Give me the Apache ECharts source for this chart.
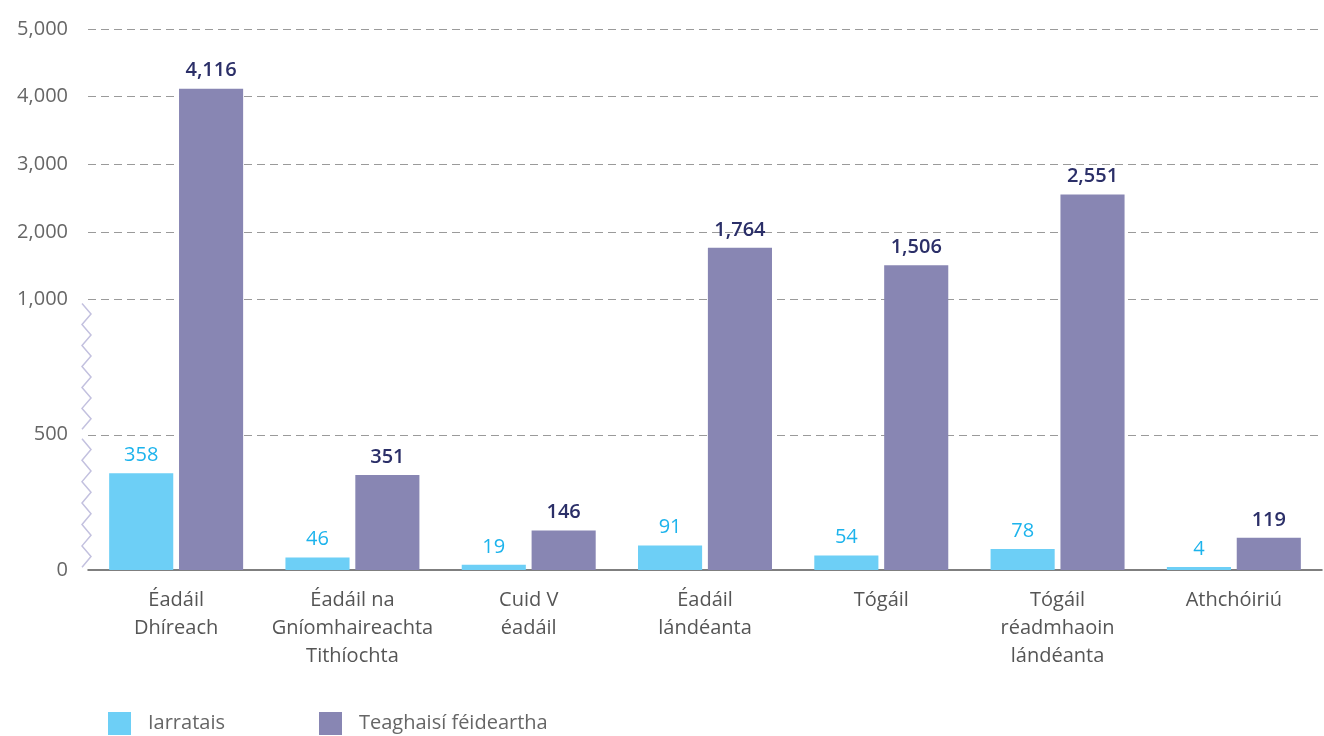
<!DOCTYPE html>
<html>
<head>
<meta charset="utf-8">
<script src="https://cdn.jsdelivr.net/npm/echarts@6/dist/echarts.min.js"></script>
<style>html,body{margin:0;padding:0;background:#fff;}#c{width:1324px;height:736px;}</style>
</head>
<body>
<div id="c"></div>
<script>
const categories = ['Éadáil\nDhíreach', 'Éadáil na\nGníomhaireachta\nTithíochta', 'Cuid V\néadáil', 'Éadáil\nlándéanta', 'Tógáil', 'Tógáil\nréadmhaoin\nlándéanta', 'Athchóiriú'];
const seriesNames = ['Iarratais', 'Teaghaisí féideartha'];
const iarratais = [358, 46, 19, 91, 54, 78, 4];
const teaghaisi = [4116, 351, 146, 1764, 1506, 2551, 119];
const tickValues = [0, 500, 1000, 2000, 3000, 4000, 5000];
const gridValues = [500, 1000, 2000, 3000, 4000, 5000];

// Broken axis: 0-1000 stretched x4 relative to 1000-5000
const BREAK = 1000, STRETCH = 4;
function fwd(v) { return v <= BREAK ? v * STRETCH : BREAK * STRETCH + (v - BREAK); }
function inv(t) { return t <= BREAK * STRETCH ? t / STRETCH : BREAK + (t - BREAK * STRETCH); }
function fmt(v) { return Math.round(v).toLocaleString('en-US'); }

const FONT = 'Open Sans';
const chart = echarts.init(document.getElementById('c'));
const tTicks = tickValues.map(fwd);

chart.setOption({
  animation: false,
  textStyle: { fontFamily: FONT },
  grid: { left: 88, right: 2, top: 29, bottom: 166, containLabel: false },
  legend: {
    left: 103, top: 707,
    itemWidth: 23, itemHeight: 23, itemGap: 94,
    icon: 'rect',
    textStyle: { fontFamily: FONT, fontSize: 20, color: '#666', padding: [0, 0, 0, 12] },
    data: seriesNames
  },
  xAxis: {
    type: 'category',
    data: categories,
    axisTick: { show: false },
    axisLine: { lineStyle: { color: '#555', width: 1.5 } },
    axisLabel: { fontFamily: FONT, fontSize: 20, color: '#555', lineHeight: 28, margin: 16, interval: 0 }
  },
  yAxis: {
    type: 'value',
    min: 0, max: fwd(5000),
    axisLine: { show: false },
    axisTick: { show: false, customValues: tTicks },
    axisLabel: { customValues: tTicks, fontFamily: FONT, fontSize: 20, color: '#666', margin: 20, formatter: function (t) { return fmt(inv(t)); } },
    splitLine: { show: false }
  },
  series: [
    {
      name: seriesNames[0], type: 'bar',
      data: iarratais.map(fwd),
      barGap: '9%', barCategoryGap: '24%', barMinHeight: 3,
      itemStyle: { color: '#6dcff6' },
      z: 3,
      label: { show: true, position: 'top', distance: 8, fontFamily: FONT, fontSize: 20, color: '#1cb3ec', formatter: function (p) { return fmt(iarratais[p.dataIndex]); } },
      markLine: {
        silent: true, symbol: 'none', z: 1,
        label: { show: false },
        lineStyle: { color: '#9a9a9a', type: [8, 5], width: 1.2 },
        data: gridValues.map(function (v) { return { yAxis: fwd(v) }; })
      }
    },
    {
      name: seriesNames[1], type: 'bar',
      data: teaghaisi.map(fwd),
      itemStyle: { color: '#8886b3' },
      z: 3,
      label: { show: true, position: 'top', distance: 8, fontFamily: FONT, fontSize: 20, fontWeight: 600, color: '#2b2f68', formatter: function (p) { return fmt(teaghaisi[p.dataIndex]); } }
    }
  ]
});

// zigzag break marks along the stretched segment of the y axis
function zig(v0, v1) {
  const y0 = chart.convertToPixel({ yAxisIndex: 0 }, fwd(v0));
  const y1 = chart.convertToPixel({ yAxisIndex: 0 }, fwd(v1));
  const pts = [];
  const n = 12;
  for (let i = 0; i <= n; i++) {
    const y = y0 + (y1 - y0) * i / n;
    pts.push([i % 2 === 0 ? 82 : 91, y]);
  }
  return pts;
}
chart.setOption({
  graphic: [
    { type: 'polyline', shape: { points: zig(985, 520) }, style: { stroke: '#c3c1df', lineWidth: 1.5, fill: null }, z: 10 },
    { type: 'polyline', shape: { points: zig(485, 10) }, style: { stroke: '#c3c1df', lineWidth: 1.5, fill: null }, z: 10 }
  ]
});
</script>
</body>
</html>
